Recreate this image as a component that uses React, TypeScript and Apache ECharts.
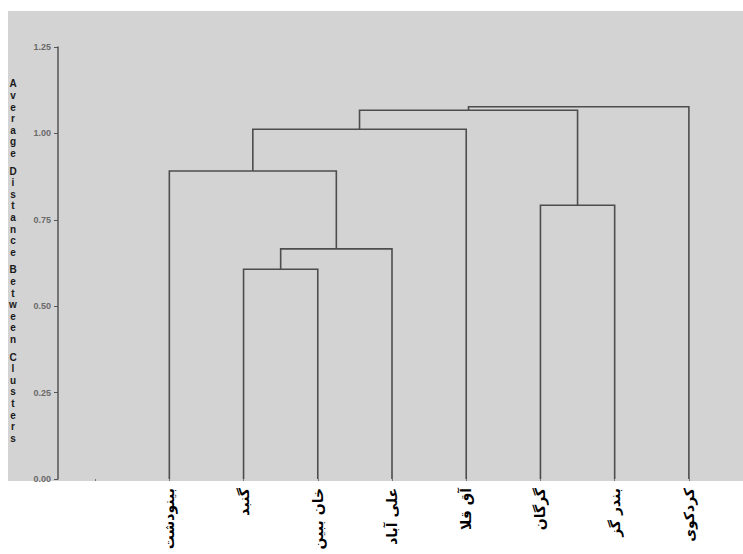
import React, { useEffect, useRef } from "react";
import * as echarts from "echarts";

// Leaf labels in dendrogram order (first slot is an empty category)
const categories = ["", "بینودشت", "گنبد", "خان ببین", "علی آباد", "آق قلا", "گرگان", "بندر گز", "کردکوی"];
// Leaves are nodes 0..7; clusters created by merges are 8, 9, ...
const mergeLeft = [1, 8, 0, 10, 5, 11, 13];
const mergeRight = [2, 3, 9, 4, 6, 12, 7];
const mergeHeight = [0.607, 0.666, 0.891, 1.012, 0.792, 1.067, 1.077];
// Y-axis ticks
const yMin = 0;
const yMax = 1.25;
const yStep = 0.25;
const axisTitleWords = ["Average", "Distance", "Between", "Clusters"];

function buildLinks() {
  const nLeaves = categories.length - 1;
  const pos: number[] = [];
  const hgt: number[] = [];
  for (let i = 0; i < nLeaves; i++) {
    pos.push(i + 1);
    hgt.push(0);
  }
  const links: number[][] = [];
  for (let k = 0; k < mergeLeft.length; k++) {
    const a = mergeLeft[k];
    const b = mergeRight[k];
    const h = mergeHeight[k];
    links.push([pos[a], pos[b], h, hgt[a], hgt[b]]);
    pos.push((pos[a] + pos[b]) / 2);
    hgt.push(h);
  }
  return links;
}

export default function App() {
  const ref = useRef<HTMLDivElement>(null);
  useEffect(() => {
    document.body.style.margin = "0";
    if (!ref.current) return;
    const chart = echarts.init(ref.current, null, { renderer: "svg" });
    const links = buildLinks();
    const titleText = axisTitleWords
      .map((w) => w.split("").join("\n"))
      .join("\n{g| }\n");
    chart.setOption({
      animation: false,
      backgroundColor: "#ffffff",
      graphic: [
        {
          type: "rect",
          z: -10,
          silent: true,
          shape: { x: 8, y: 11, width: 735, height: 470 },
          style: { fill: "#d3d3d3" },
        },
        {
          type: "text",
          z: 10,
          x: 13,
          y: 261,
          style: {
            text: titleText,
            fill: "#1a1a1a",
            font: "bold 10px 'Liberation Sans'",
            lineHeight: 11.6,
            align: "center",
            verticalAlign: "middle",
            rich: { g: { lineHeight: 6, fontSize: 4 } },
          },
        },
      ],
      grid: { left: 58, right: 17, top: 47, bottom: 75 },
      xAxis: [
        {
          type: "category",
          data: categories,
          boundaryGap: true,
          axisLine: { show: false },
          axisTick: { show: true, alignWithLabel: true, length: 2, lineStyle: { color: "#777" } },
          axisLabel: {
            interval: 0,
            rotate: 90,
            margin: 9,
            color: "#000",
            fontSize: 14,
            fontWeight: "bold",
            fontFamily: "DejaVu Sans",
          },
          splitLine: { show: false },
        },
        {
          type: "value",
          min: -0.5,
          max: categories.length - 0.5,
          show: false,
          splitLine: { show: false },
        },
      ],
      yAxis: {
        type: "value",
        min: yMin,
        max: yMax,
        interval: yStep,
        axisLine: { show: true, onZero: false, lineStyle: { color: "#555", width: 1.5 } },
        axisTick: { show: true, length: 4, lineStyle: { color: "#555" } },
        axisLabel: {
          margin: 7,
          fontSize: 9,
          color: "#6a6a6a",
          fontFamily: "Liberation Sans",
          fontWeight: "bold",
          formatter: (v: number) => v.toFixed(2),
        },
        splitLine: { show: false },
      },
      series: [
        {
          type: "custom",
          xAxisIndex: 1,
          yAxisIndex: 0,
          data: links,
          renderItem: (params: any, api: any) => {
            const xl = api.value(0);
            const xr = api.value(1);
            const h = api.value(2);
            const hl = api.value(3);
            const hr = api.value(4);
            const p1 = api.coord([xl, hl]);
            const p2 = api.coord([xl, h]);
            const p3 = api.coord([xr, h]);
            const p4 = api.coord([xr, hr]);
            return {
              type: "polyline",
              shape: { points: [p1, p2, p3, p4] },
              style: { stroke: "#4d4d4d", lineWidth: 1.6, fill: "none" },
            };
          },
        },
      ],
    });
    return () => chart.dispose();
  }, []);
  return <div ref={ref} style={{ width: 743, height: 554 }} />;
}
